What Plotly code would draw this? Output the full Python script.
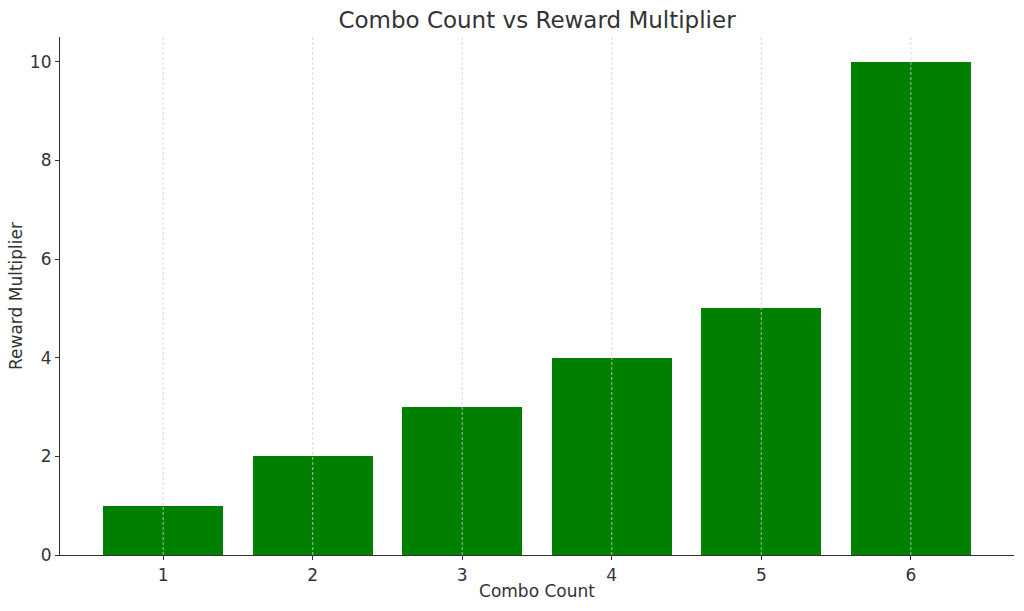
import plotly.graph_objects as go

combo_counts = [1, 2, 3, 4, 5, 6]
reward_multipliers = [1, 2, 3, 4, 5, 10]
x_ticks = [1, 2, 3, 4, 5, 6]
y_ticks = [0, 2, 4, 6, 8, 10]

font = "DejaVu Sans"
txt = "#333333"

fig = go.Figure(go.Bar(
    x=combo_counts, y=reward_multipliers, width=0.8,
    marker=dict(color="#008000", line=dict(width=0)),
))

for xv in x_ticks:
    fig.add_shape(type="line", xref="x", yref="paper", x0=xv, x1=xv, y0=0, y1=1,
                  line=dict(color="#cfcfcf", width=0.8, dash="3px,2px"), layer="above")

fig.update_layout(
    width=1024, height=611,
    margin=dict(l=60, r=10, t=37, b=56, autoexpand=False),
    paper_bgcolor="white", plot_bgcolor="white",
    font=dict(family=font, color=txt, size=17),
    title=dict(text="Combo Count vs Reward Multiplier", x=0.5, xanchor="center",
               xref="paper", yref="container",
               y=1 - 20 / 611, yanchor="middle", font=dict(size=23, color=txt),
               automargin=False),
    showlegend=False,
    bargap=0,
)
fig.update_xaxes(
    range=[0.31, 6.69], tickvals=x_ticks, ticktext=[str(v) for v in x_ticks],
    showline=True, linecolor=txt, linewidth=1.2, mirror=False,
    ticks="outside", ticklen=4, tickcolor=txt,
    showgrid=False, automargin=False,
    layer="above traces", zeroline=False,
    title=dict(text="Combo Count", standoff=1, font=dict(size=17)),
)
fig.update_yaxes(
    range=[0, 10.5], tickvals=y_ticks, ticktext=[str(v) for v in y_ticks],
    showline=True, linecolor=txt, linewidth=1.2, automargin=False,
    ticks="outside", ticklen=4, tickcolor=txt,
    showgrid=False, zeroline=False,
    title=dict(text="Reward Multiplier", standoff=2, font=dict(size=17)),
)

fig.write_html("out.html", config={"displayModeBar": False},
               post_script="document.body.style.margin='0px';")
